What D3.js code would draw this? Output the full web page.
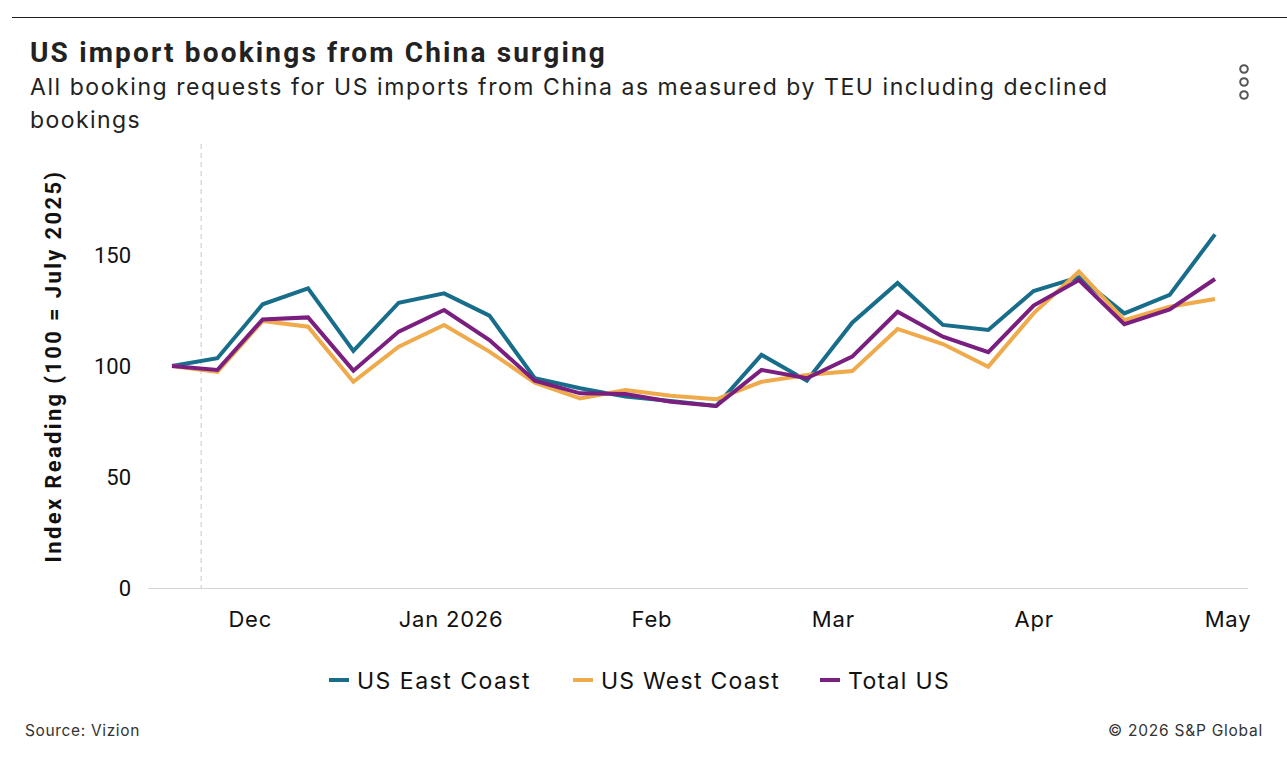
<!DOCTYPE html>
<html>
<head>
<meta charset="utf-8">
<script src="https://cdn.jsdelivr.net/npm/d3@7"></script>
<style>
  body { margin: 0; background: #fff; }
  svg { display: block; font-family: Inter, Roboto, sans-serif; }
</style>
</head>
<body>
<div id="chart-area"></div>
<script>
// data, weekly readings
const dates = [
    '2025-11-19', '2025-11-26', '2025-12-03', '2025-12-10', '2025-12-17', '2025-12-24',
    '2025-12-31', '2026-01-07', '2026-01-14', '2026-01-21', '2026-01-28', '2026-02-04',
    '2026-02-11', '2026-02-18', '2026-02-25', '2026-03-04', '2026-03-11', '2026-03-18',
    '2026-03-25', '2026-04-01', '2026-04-08', '2026-04-15', '2026-04-22', '2026-04-29'
];
const eastCoast = [100, 103.5, 127.8, 135, 106.8, 128.5, 132.7, 122.7, 94.5, 90, 86.2, 84.2,
    82, 105, 93.4, 119.5, 137.4, 118.5, 116.2, 133.8, 140, 123.7, 132, 159.3];
const westCoast = [100, 97.4, 120.3, 117.7, 92.9, 108.7, 118.5, 106.5, 92.5, 85.4, 89.2, 86.6,
    85, 92.9, 95.9, 97.7, 116.7, 109.9, 99.7, 123.7, 142.5, 120.7, 126.7, 130.2];
const totalUS = [100, 98.2, 121, 121.9, 97.9, 115.5, 125.2, 111.7, 93.4, 87.7, 87.4, 83.9,
    82, 98.2, 94.5, 104.2, 124.4, 113.2, 106.2, 127.2, 138.7, 118.8, 125.5, 139.2];
const seriesNames = ['US East Coast', 'US West Coast', 'Total US'];
const colors = ['#176d8a', '#efaa4b', '#7a1e80'];
const yTicks = [0, 50, 100, 150];
const monthTicks = ['2025-12-01', '2026-01-01', '2026-02-01', '2026-03-01', '2026-04-01', '2026-05-01'];
const markerDate = '2025-11-23T12:00';

const W = 1287, H = 759;
const parse = d3.utcParse('%Y-%m-%d');
const parseT = d3.utcParse('%Y-%m-%dT%H:%M');

const svg = d3.select('#chart-area')
    .append('svg')
        .attr('width', W)
        .attr('height', H);

// widen a text with letter spacing so it takes the reference width
function spread(sel, w) {
    sel.each(function() {
        const n = this.getComputedTextLength();
        const chars = this.textContent.length;
        d3.select(this).attr('letter-spacing', ((w - n) / chars).toFixed(2) + 'px');
    });
    return sel;
}

// top rule
svg.append('line')
    .attr('x1', 12).attr('x2', W)
    .attr('y1', 17.5).attr('y2', 17.5)
    .attr('stroke', '#222').attr('stroke-width', 1);

// titles
spread(svg.append('text')
    .attr('x', 30).attr('y', 62)
    .attr('font-size', '28px')
    .attr('font-weight', 700)
    .attr('fill', '#222')
    .attr('font-family', 'Roboto, sans-serif')
    .text('US import bookings from China surging'), 577);

spread(svg.append('text')
    .attr('x', 30).attr('y', 95)
    .attr('font-size', '23px')
    .attr('fill', '#222')
    .text('All booking requests for US imports from China as measured by TEU including declined'), 1079);
spread(svg.append('text')
    .attr('x', 30).attr('y', 128)
    .attr('font-size', '23px')
    .attr('fill', '#222')
    .text('bookings'), 111);

// menu icon
svg.append('g')
    .selectAll('circle')
    .data([69, 82, 95])
    .enter()
        .append('circle')
            .attr('cx', 1244).attr('cy', d => d)
            .attr('r', 3.8)
            .attr('fill', 'none')
            .attr('stroke', '#555')
            .attr('stroke-width', 2);

// scales
const x = d3.scaleUtc()
    .domain([parse(dates[0]), parse(dates[dates.length - 1])])
    .range([172, 1215]);

const y = d3.scaleLinear()
    .domain([0, 200])
    .range([588, 144]);

// marker line
svg.append('line')
    .attr('x1', x(parseT(markerDate))).attr('x2', x(parseT(markerDate)))
    .attr('y1', 144).attr('y2', 588)
    .attr('stroke', '#c8c8c8')
    .attr('stroke-width', 1)
    .attr('stroke-dasharray', '5,4');

// x axis
const xAxisCall = d3.axisBottom(x)
    .tickValues(monthTicks.map(parse))
    .tickSize(0)
    .tickPadding(23)
    .tickFormat(d => d.getUTCMonth() === 0 ? d3.utcFormat('%b %Y')(d) : d3.utcFormat('%b')(d));
const xAxis = svg.append('g')
    .attr('class', 'x axis')
    .attr('transform', 'translate(0, 588)')
    .call(xAxisCall);
xAxis.select('.domain').remove();
xAxis.selectAll('text')
    .attr('font-size', '22px')
    .attr('font-family', 'Inter, sans-serif')
    .attr('letter-spacing', '0.8px')
    .attr('fill', '#111');
// keep last label inside the frame
xAxis.selectAll('.tick').filter((d, i) => i === monthTicks.length - 1)
    .attr('transform', `translate(${Math.min(x(parse(monthTicks[monthTicks.length - 1])), 1229)},0)`);

svg.append('line')
    .attr('x1', 148).attr('x2', 1248)
    .attr('y1', 588.5).attr('y2', 588.5)
    .attr('stroke', '#d6d6d6')
    .attr('stroke-width', 1);

// y axis
const yAxisCall = d3.axisLeft(y)
    .tickValues(yTicks)
    .tickSize(0)
    .tickPadding(0);
const yAxis = svg.append('g')
    .attr('class', 'y axis')
    .attr('transform', 'translate(131, 0)')
    .call(yAxisCall);
yAxis.select('.domain').remove();
yAxis.selectAll('text')
    .attr('font-size', '22px')
    .attr('font-family', 'Roboto, sans-serif')
    .attr('fill', '#111');

// y label
spread(svg.append('text')
    .attr('transform', `translate(61, ${(y(0) + y(200)) / 2}) rotate(-90)`)
    .attr('text-anchor', 'middle')
    .attr('font-size', '22px')
    .attr('font-weight', 700)
    .attr('font-family', 'Roboto, sans-serif')
    .attr('fill', '#111')
    .text('Index Reading (100 = July 2025)'), 393);

// lines
const seriesValues = [eastCoast, westCoast, totalUS];
const line = d3.line()
    .x((d, i) => x(parse(dates[i])))
    .y(d => y(d));

svg.append('g')
    .selectAll('path')
    .data(seriesValues)
    .enter()
        .append('path')
            .attr('d', d => line(d))
            .attr('fill', 'none')
            .attr('stroke', (d, i) => colors[i])
            .attr('stroke-width', 4)
            .attr('stroke-linejoin', 'miter');

// legend
const legendX = [329, 573, 820];
const legendW = [174, 179, 102];
const legend = svg.append('g')
    .selectAll('g')
    .data(seriesNames)
    .enter()
        .append('g')
            .attr('transform', (d, i) => `translate(${legendX[i]}, 680)`);
legend.append('rect')
    .attr('x', 0).attr('y', -2)
    .attr('width', 20).attr('height', 4)
    .attr('fill', (d, i) => colors[i]);
legend.append('text')
    .attr('x', 28).attr('y', 9)
    .attr('font-size', '23px')
    .attr('fill', '#111')
    .text(d => d)
    .each(function(d, i) { spread(d3.select(this), legendW[i]); });

// footer
spread(svg.append('text')
    .attr('x', 25).attr('y', 736)
    .attr('font-size', '15.5px')
    .attr('fill', '#333')
    .text('Source: Vizion'), 115);
const copy = svg.append('text')
    .attr('x', 1108).attr('y', 736)
    .attr('font-size', '15.5px')
    .attr('fill', '#333')
    .text('© 2026 S&P Global');
spread(copy, 155);
</script>
</body>
</html>
